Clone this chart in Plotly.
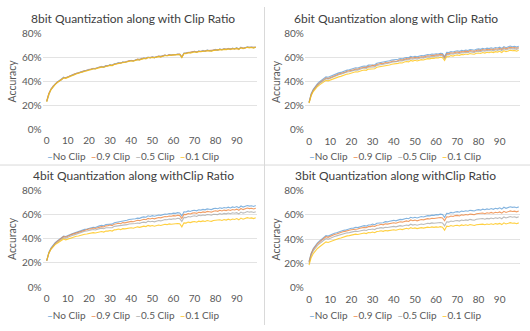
import plotly.graph_objects as go

epochs = list(range(100))
series_names = ["No Clip", "0.9 Clip", "0.5 Clip", "0.1 Clip"]
colors = ["#5B9BD5", "#ED7D31", "#A5A5A5", "#FFC000"]
titles = ["8bit Quantization along with Clip Ratio", "6bit Quantization along with Clip Ratio",
          "4bit Quantization along withClip Ratio", "3bit Quantization along withClip Ratio"]
y_ticks = [0, 20, 40, 60, 80]
y_tick_labels = ["0%", "20%", "40%", "60%", "80%"]
x_ticks = [0, 10, 20, 30, 40, 50, 60, 70, 80, 90]

# ---------------- 8 bit ----------------
b8_noclip = [23.5, 29.8, 33.4, 35.9, 37.8, 39.3, 40.6, 41.5, 43.4, 42.9,
             43.8, 44.6, 45.3, 45.9, 46.6, 47.0, 47.8, 48.2, 48.9, 49.2,
             49.9, 50.1, 50.8, 50.6, 51.4, 51.9, 52.3, 52.0, 53.0, 53.1,
             53.8, 53.4, 54.6, 54.9, 55.5, 55.2, 56.1, 56.0, 56.6, 57.2,
             57.4, 57.1, 57.9, 58.4, 58.2, 59.0, 59.4, 59.1, 60.3, 59.8,
             60.4, 59.9, 60.6, 61.0, 60.7, 61.5, 61.8, 61.6, 62.2, 62.0,
             62.5, 62.3, 62.9, 62.6, 60.2, 63.6, 63.4, 64.3, 63.9, 64.6,
             64.9, 64.4, 65.3, 65.0, 65.6, 65.2, 66.0, 65.7, 65.4, 66.2,
             66.5, 66.1, 66.9, 66.4, 67.1, 66.7, 67.4, 66.8, 67.6, 67.2,
             67.9, 66.9, 68.4, 67.5, 68.1, 68.8, 68.3, 68.6, 68.0, 68.7]
b8_c09 = [23.8, 30.1, 33.2, 36.1, 37.6, 39.5, 40.4, 41.8, 43.1, 43.2,
          43.6, 44.8, 45.1, 46.1, 46.4, 47.3, 47.6, 48.4, 48.7, 49.4,
          49.7, 50.4, 50.6, 50.9, 51.2, 52.1, 52.0, 52.3, 52.8, 53.4,
          53.5, 53.7, 54.3, 55.1, 55.2, 55.6, 55.9, 56.3, 56.4, 57.4,
          57.2, 57.5, 57.6, 58.6, 58.0, 59.2, 59.1, 59.5, 60.0, 60.1,
          60.1, 60.2, 60.3, 61.2, 60.5, 61.3, 62.0, 61.4, 62.4, 61.8,
          62.3, 62.6, 62.7, 62.8, 60.6, 63.3, 63.7, 64.0, 64.2, 64.4,
          65.1, 64.6, 65.0, 65.3, 65.4, 65.5, 65.7, 66.0, 65.6, 66.0,
          66.3, 66.4, 66.6, 66.7, 66.9, 67.0, 67.1, 67.1, 67.3, 67.5,
          67.6, 67.2, 68.1, 67.8, 67.9, 68.5, 68.5, 68.3, 68.3, 68.5]
b8_c05 = [23.2, 29.5, 33.6, 35.7, 38.0, 39.1, 40.8, 41.3, 43.6, 42.7,
          44.0, 44.4, 45.5, 45.7, 46.8, 46.8, 48.0, 48.0, 49.1, 49.0,
          50.1, 49.9, 51.0, 50.4, 51.6, 51.7, 52.5, 51.8, 53.2, 52.9,
          54.0, 53.2, 54.8, 54.7, 55.7, 55.0, 56.3, 55.8, 56.8, 57.0,
          57.6, 56.9, 58.1, 58.2, 58.4, 58.8, 59.6, 58.9, 60.1, 59.6,
          60.6, 59.7, 60.8, 60.8, 60.9, 61.3, 62.0, 61.4, 62.0, 62.2,
          62.3, 62.5, 62.7, 62.4, 60.4, 63.4, 63.6, 64.1, 64.1, 64.4,
          65.1, 64.2, 65.5, 64.8, 65.8, 65.0, 66.2, 65.5, 65.6, 66.0,
          66.7, 65.9, 67.1, 66.2, 67.3, 66.5, 67.6, 66.6, 67.8, 67.0,
          68.1, 66.7, 68.6, 67.3, 68.3, 68.6, 68.5, 68.4, 68.2, 68.5]
b8_c01 = [23.0, 29.3, 33.0, 35.5, 37.4, 39.0, 40.2, 41.2, 42.9, 42.6,
          43.4, 44.3, 44.9, 45.6, 46.2, 46.8, 47.4, 47.9, 48.5, 48.9,
          49.5, 49.8, 50.4, 50.4, 51.0, 51.6, 51.9, 51.8, 52.6, 52.8,
          53.4, 53.2, 54.2, 54.6, 55.1, 55.0, 55.7, 55.8, 56.2, 56.9,
          57.0, 56.9, 57.5, 58.1, 57.9, 58.7, 59.0, 58.9, 59.9, 59.5,
          60.0, 59.7, 60.2, 60.7, 60.4, 61.1, 61.4, 61.4, 61.8, 61.8,
          62.1, 62.1, 62.5, 62.4, 59.8, 63.2, 63.1, 63.9, 63.6, 64.2,
          64.5, 64.2, 64.9, 64.8, 65.2, 65.0, 65.6, 65.5, 65.1, 65.8,
          66.1, 65.9, 66.5, 66.2, 66.7, 66.5, 67.0, 66.6, 67.2, 67.0,
          67.5, 66.7, 68.0, 67.3, 67.7, 68.4, 68.0, 68.3, 67.8, 68.4]

# ---------------- 6 bit ----------------
b6_noclip = [23.0, 30.0, 33.8, 36.4, 38.4, 40.0, 41.3, 42.2, 44.0, 43.7,
             44.5, 45.3, 46.0, 46.6, 47.3, 47.7, 48.5, 48.9, 49.6, 49.9,
             50.6, 50.8, 51.5, 51.3, 52.1, 52.6, 53.0, 52.7, 53.7, 53.8,
             54.5, 54.1, 55.3, 55.6, 56.2, 55.9, 56.8, 56.7, 57.3, 57.9,
             58.1, 57.8, 58.6, 59.1, 58.9, 59.7, 60.1, 59.8, 61.0, 60.5,
             61.1, 60.6, 61.3, 61.7, 61.4, 62.2, 62.5, 62.3, 62.9, 62.7,
             63.2, 63.0, 63.6, 63.3, 60.9, 64.3, 64.1, 65.0, 64.6, 65.3,
             65.6, 65.1, 66.0, 65.7, 66.3, 65.9, 66.7, 66.4, 66.1, 66.9,
             67.2, 66.8, 67.6, 67.1, 67.8, 67.4, 68.1, 67.5, 68.3, 67.9,
             68.6, 67.6, 69.1, 68.2, 68.8, 69.5, 69.0, 69.3, 68.7, 69.4]
b6_c09 = [22.6, 29.4, 33.0, 35.6, 37.5, 39.0, 40.3, 41.2, 43.0, 42.6,
          43.5, 44.3, 45.0, 45.6, 46.3, 46.7, 47.5, 47.9, 48.6, 48.9,
          49.6, 49.8, 50.5, 50.3, 51.1, 51.6, 52.0, 51.7, 52.7, 52.8,
          53.5, 53.1, 54.3, 54.6, 55.2, 54.9, 55.8, 55.7, 56.3, 56.9,
          57.1, 56.8, 57.6, 58.1, 57.9, 58.7, 59.1, 58.8, 60.0, 59.5,
          60.1, 59.6, 60.3, 60.7, 60.4, 61.2, 61.5, 61.3, 61.9, 61.7,
          62.2, 62.0, 62.6, 62.3, 59.9, 63.3, 63.1, 64.0, 63.6, 64.3,
          64.6, 64.1, 65.0, 64.7, 65.3, 64.9, 65.7, 65.4, 65.1, 65.9,
          66.2, 65.8, 66.6, 66.1, 66.8, 66.4, 67.1, 66.5, 67.3, 66.9,
          67.6, 66.6, 68.1, 67.2, 67.8, 68.5, 68.0, 68.3, 67.7, 68.4]
b6_c05 = [22.4, 28.9, 32.6, 35.1, 37.0, 38.5, 39.8, 40.7, 42.4, 42.1,
          42.9, 43.7, 44.4, 45.0, 45.7, 46.1, 46.9, 47.3, 48.0, 48.3,
          48.9, 49.1, 49.8, 49.6, 50.4, 50.9, 51.3, 51.0, 52.0, 52.1,
          52.7, 52.3, 53.5, 53.8, 54.4, 54.1, 55.0, 54.9, 55.5, 56.1,
          56.3, 56.0, 56.8, 57.3, 57.1, 57.9, 58.3, 58.0, 59.1, 58.6,
          59.2, 58.7, 59.4, 59.8, 59.5, 60.3, 60.6, 60.4, 61.0, 60.8,
          61.3, 61.1, 61.7, 61.4, 59.0, 62.4, 62.2, 63.1, 62.7, 63.4,
          63.7, 63.2, 64.1, 63.8, 64.4, 64.0, 64.8, 64.5, 64.2, 65.0,
          65.3, 64.9, 65.7, 65.2, 65.9, 65.5, 66.2, 65.6, 66.4, 66.0,
          66.7, 65.7, 67.2, 66.3, 66.9, 67.6, 67.1, 67.4, 66.8, 67.5]
b6_c01 = [22.2, 28.3, 31.8, 34.2, 36.0, 37.4, 38.6, 39.4, 41.1, 40.7,
          41.5, 42.2, 42.8, 43.4, 44.0, 44.4, 45.2, 45.6, 46.3, 46.6,
          47.3, 47.5, 48.2, 48.0, 48.8, 49.3, 49.7, 49.4, 50.4, 50.5,
          51.1, 50.7, 51.9, 52.2, 52.8, 52.5, 53.4, 53.3, 53.9, 54.5,
          54.7, 54.4, 55.2, 55.7, 55.5, 56.3, 56.7, 56.4, 57.6, 57.1,
          57.7, 57.2, 57.9, 58.3, 58.0, 58.8, 59.1, 58.9, 59.5, 59.3,
          59.8, 59.6, 60.2, 59.9, 57.5, 60.9, 60.7, 61.6, 61.2, 61.9,
          62.2, 61.7, 62.6, 62.3, 62.9, 62.5, 63.3, 63.0, 62.7, 63.5,
          63.8, 63.4, 64.2, 63.7, 64.4, 64.0, 64.7, 64.1, 64.9, 64.5,
          65.2, 64.2, 65.7, 64.8, 65.4, 66.1, 65.6, 65.9, 65.3, 66.0]

# ---------------- 4 bit ----------------
b4_noclip = [22.0, 28.6, 32.3, 34.8, 36.7, 38.2, 39.5, 40.4, 42.2, 41.8,
             42.7, 43.4, 44.1, 44.7, 45.4, 45.8, 46.6, 47.0, 47.7, 48.0,
             48.6, 48.8, 49.5, 49.3, 50.1, 50.6, 51.0, 50.7, 51.7, 51.8,
             52.4, 52.0, 53.2, 53.5, 54.1, 53.8, 54.7, 54.6, 55.2, 55.8,
             56.0, 55.7, 56.5, 57.0, 56.8, 57.6, 58.0, 57.7, 58.9, 58.4,
             59.0, 58.5, 59.2, 59.6, 59.3, 60.1, 60.4, 60.2, 60.8, 60.6,
             61.1, 60.9, 61.5, 61.2, 58.8, 62.2, 62.0, 62.9, 62.5, 63.2,
             63.5, 63.0, 63.9, 63.6, 64.2, 63.8, 64.6, 64.3, 64.0, 64.8,
             65.1, 64.7, 65.5, 65.0, 65.7, 65.3, 66.0, 65.4, 66.2, 65.8,
             66.5, 65.5, 67.0, 66.1, 66.7, 67.4, 66.9, 67.2, 66.6, 67.3]
b4_c09 = [21.9, 28.2, 31.8, 34.3, 36.2, 37.7, 39.0, 39.9, 41.8, 41.3,
          42.2, 43.0, 43.6, 44.2, 44.8, 45.2, 46.0, 46.4, 47.1, 47.4,
          48.0, 48.1, 48.8, 48.5, 49.2, 49.7, 50.0, 49.7, 50.6, 50.7,
          51.3, 50.8, 52.0, 52.3, 52.8, 52.4, 53.3, 53.1, 53.7, 54.2,
          54.3, 54.0, 54.7, 55.2, 54.9, 55.7, 56.0, 55.7, 56.8, 56.3,
          56.9, 56.4, 57.1, 57.5, 57.2, 58.0, 58.3, 58.1, 58.7, 58.5,
          59.0, 58.8, 59.4, 59.1, 56.7, 60.1, 59.9, 60.8, 60.4, 61.1,
          61.4, 60.9, 61.8, 61.5, 62.1, 61.7, 62.5, 62.2, 61.9, 62.7,
          63.0, 62.6, 63.4, 62.9, 63.6, 63.2, 63.9, 63.3, 64.1, 63.7,
          64.4, 63.4, 64.9, 64.0, 64.6, 65.3, 64.8, 65.1, 64.5, 65.2]
b4_c05 = [21.7, 28.0, 31.5, 33.9, 35.7, 37.1, 38.3, 39.2, 40.9, 40.4,
          41.3, 42.1, 42.7, 43.2, 43.9, 44.3, 45.0, 45.4, 46.1, 46.4,
          46.9, 47.0, 47.6, 47.2, 47.9, 48.3, 48.6, 48.2, 49.1, 49.1,
          49.6, 49.1, 50.2, 50.4, 50.9, 50.5, 51.3, 51.1, 51.6, 52.2,
          52.3, 51.9, 52.6, 53.0, 52.7, 53.4, 53.7, 53.3, 54.5, 54.0,
          54.4, 53.9, 54.6, 55.0, 54.7, 55.5, 55.8, 55.6, 56.2, 56.0,
          56.5, 56.3, 56.9, 56.6, 54.2, 57.6, 57.4, 58.3, 57.9, 58.6,
          58.9, 58.4, 59.3, 59.0, 59.6, 59.2, 60.0, 59.7, 59.4, 60.2,
          60.3, 59.9, 60.7, 60.2, 60.9, 60.5, 61.2, 60.6, 61.4, 61.0,
          61.5, 60.5, 62.0, 61.1, 61.7, 62.4, 61.9, 62.2, 61.6, 62.3]
b4_c01 = [22.0, 28.0, 31.3, 33.5, 35.1, 36.3, 37.4, 38.1, 39.8, 39.1,
          39.8, 40.5, 41.0, 41.5, 42.0, 42.3, 42.9, 43.2, 43.7, 43.9,
          44.4, 44.5, 45.0, 44.7, 45.3, 45.7, 45.9, 45.5, 46.3, 46.3,
          46.8, 46.3, 47.3, 47.5, 48.0, 47.5, 48.3, 48.1, 48.5, 49.0,
          49.1, 48.7, 49.4, 49.8, 49.4, 50.1, 50.4, 50.0, 51.0, 50.4,
          50.9, 50.3, 51.0, 51.3, 50.9, 51.7, 51.9, 51.6, 52.2, 51.9,
          52.3, 52.1, 52.6, 52.3, 49.8, 53.1, 52.9, 53.7, 53.3, 53.9,
          54.2, 53.6, 54.5, 54.1, 54.7, 54.2, 55.0, 54.6, 54.3, 55.0,
          55.2, 54.8, 55.6, 55.1, 55.8, 55.4, 56.1, 55.5, 56.3, 55.9,
          56.6, 55.6, 57.0, 56.1, 56.7, 57.4, 56.9, 57.2, 56.6, 57.3]

# ---------------- 3 bit ----------------
b3_noclip = [21.5, 28.2, 32.1, 34.8, 36.9, 38.5, 39.9, 40.9, 42.8, 42.4,
             43.3, 44.0, 44.7, 45.2, 45.9, 46.2, 47.0, 47.3, 48.0, 48.2,
             48.9, 49.0, 49.7, 49.4, 50.2, 50.6, 51.0, 50.6, 51.6, 51.6,
             52.3, 51.8, 53.0, 53.2, 53.8, 53.4, 54.3, 54.1, 54.7, 55.2,
             55.4, 55.0, 55.8, 56.2, 56.0, 56.7, 57.1, 56.7, 57.9, 57.3,
             57.9, 57.4, 58.1, 58.5, 58.2, 59.0, 59.3, 59.1, 59.7, 59.5,
             60.1, 59.9, 60.5, 60.2, 57.8, 61.2, 61.0, 61.9, 61.5, 62.2,
             62.6, 62.1, 63.0, 62.7, 63.3, 62.9, 63.7, 63.4, 63.1, 63.9,
             64.2, 63.8, 64.6, 64.1, 64.8, 64.4, 65.1, 64.5, 65.3, 64.9,
             65.7, 64.7, 66.2, 65.3, 65.9, 66.6, 66.1, 66.4, 65.8, 66.5]
b3_c09 = [21.0, 27.6, 31.4, 34.1, 36.1, 37.7, 39.0, 40.0, 41.9, 41.4,
          42.3, 43.0, 43.7, 44.2, 44.9, 45.2, 46.0, 46.3, 47.0, 47.2,
          47.7, 47.8, 48.4, 48.2, 48.9, 49.3, 49.6, 49.3, 50.2, 50.2,
          50.8, 50.3, 51.4, 51.6, 52.1, 51.7, 52.5, 52.3, 52.8, 53.3,
          53.4, 53.0, 53.7, 54.2, 53.9, 54.6, 54.9, 54.5, 55.7, 55.1,
          55.6, 55.0, 55.7, 56.1, 55.8, 56.5, 56.8, 56.5, 57.1, 56.9,
          57.3, 57.1, 57.7, 57.4, 55.0, 58.3, 58.1, 59.0, 58.6, 59.3,
          59.5, 59.0, 59.9, 59.6, 60.2, 59.8, 60.6, 60.3, 60.0, 60.8,
          61.0, 60.6, 61.4, 60.9, 61.6, 61.2, 61.9, 61.3, 62.1, 61.7,
          62.3, 61.3, 62.8, 61.9, 62.5, 63.2, 62.7, 63.0, 62.4, 63.1]
b3_c05 = [20.0, 26.5, 30.2, 32.8, 34.8, 36.3, 37.6, 38.5, 40.4, 39.9,
          40.8, 41.5, 42.1, 42.6, 43.2, 43.5, 44.2, 44.5, 45.1, 45.3,
          45.9, 46.0, 46.5, 46.2, 46.8, 47.2, 47.4, 47.0, 47.8, 47.8,
          48.3, 47.8, 48.8, 49.0, 49.4, 49.0, 49.7, 49.5, 49.9, 50.4,
          50.4, 50.0, 50.6, 51.0, 50.6, 51.3, 51.6, 51.1, 52.2, 51.5,
          52.0, 51.4, 52.0, 52.4, 52.0, 52.8, 53.0, 52.7, 53.3, 53.0,
          53.3, 53.0, 53.6, 53.2, 50.8, 54.2, 53.9, 54.8, 54.4, 55.0,
          55.3, 54.8, 55.6, 55.3, 55.8, 55.4, 56.2, 55.8, 55.5, 56.3,
          56.5, 56.1, 56.9, 56.3, 57.0, 56.6, 57.3, 56.7, 57.5, 57.0,
          57.7, 56.7, 58.2, 57.3, 57.8, 58.5, 58.0, 58.3, 57.7, 58.4]
b3_c01 = [18.5, 24.6, 28.0, 30.4, 32.2, 33.6, 34.9, 35.7, 37.6, 37.1,
          37.9, 38.6, 39.3, 39.8, 40.5, 40.8, 41.6, 41.9, 42.6, 42.8,
          43.4, 43.5, 44.0, 43.7, 44.3, 44.7, 44.9, 44.5, 45.3, 45.2,
          45.8, 45.2, 46.2, 46.4, 46.8, 46.3, 47.0, 46.7, 47.2, 47.6,
          47.6, 47.2, 47.8, 48.2, 47.8, 48.5, 48.8, 48.3, 49.4, 48.7,
          49.2, 48.6, 49.1, 49.4, 49.0, 49.7, 49.8, 49.5, 50.0, 49.6,
          50.0, 49.7, 50.2, 49.8, 47.3, 50.6, 50.3, 51.1, 50.6, 51.2,
          51.4, 50.8, 51.6, 51.2, 51.7, 51.2, 51.9, 51.5, 51.1, 51.8,
          52.0, 51.6, 52.3, 51.8, 52.4, 52.0, 52.6, 52.0, 52.7, 52.3,
          52.9, 51.9, 53.3, 52.4, 52.9, 53.5, 53.0, 53.2, 52.6, 53.3]

panels = [
    [b8_noclip, b8_c09, b8_c05, b8_c01],
    [b6_noclip, b6_c09, b6_c05, b6_c01],
    [b4_noclip, b4_c09, b4_c05, b4_c01],
    [b3_noclip, b3_c09, b3_c05, b3_c01],
]

W, H = 530, 331
FONT = "Lato"
TXT = "#595959"

# panel geometry in pixels: (plot left, plot right, y of 80%, y of 0%)
geom = [
    (42.5, 257.0, 27.5, 127.5),
    (304.8, 520.0, 27.5, 128.0),
    (42.5, 257.0, 190.7, 291.7),
    (304.8, 520.0, 191.0, 292.0),
]
title_pos = [(132.5, 12), (396, 12), (133, 175), (396, 175)]
legend_pos = [(133, 155.5), (395, 155.5), (133, 320.5), (395, 320.5)]
ytitle_pos = [(12, 77.5), (276, 78), (12, 241.5), (276, 242)]
xstandoff = [4, 4, 4, 4]

fig = go.Figure()
annotations = []
for p in range(4):
    sfx = "" if p == 0 else str(p + 1)
    for s in range(4):
        fig.add_trace(go.Scatter(
            x=epochs, y=panels[p][s], mode="lines", name=series_names[s],
            line=dict(color=colors[s], width=1.1), opacity=0.75, showlegend=False,
            xaxis="x" + sfx, yaxis="y" + sfx))
    l, r, yt, yb = geom[p]
    fig.layout["xaxis" + sfx] = dict(
        domain=[l / W, r / W], range=[-2, 99.6], anchor="y" + sfx,
        tickmode="array", tickvals=x_ticks, showgrid=False, zeroline=False,
        showline=False, ticks="", tickfont=dict(family=FONT, size=10, color=TXT),
        ticklabelstandoff=xstandoff[p])
    fig.layout["yaxis" + sfx] = dict(
        domain=[1 - yb / H, 1 - yt / H], range=[0, 80], anchor="x" + sfx,
        tickmode="array", tickvals=y_ticks, ticktext=y_tick_labels, showgrid=True,
        gridcolor="#E3E3E3", gridwidth=1, zeroline=False, showline=False,
        ticks="", tickfont=dict(family=FONT, size=10, color=TXT))
    tx, ty = title_pos[p]
    annotations.append(dict(text=titles[p], x=tx / W, y=1 - ty / H, xref="paper", yref="paper",
                            showarrow=False, xanchor="center", yanchor="middle",
                            font=dict(family=FONT, size=12, color="#404040")))
    ax_, ay_ = ytitle_pos[p]
    annotations.append(dict(text="Accuracy", x=ax_ / W, y=1 - ay_ / H, xref="paper", yref="paper",
                            showarrow=False, textangle=-90, xanchor="center", yanchor="middle",
                            font=dict(family=FONT, size=10.5, color=TXT)))
    leg = "  ".join(
        '<span style="color:%s">–</span>%s' % (colors[s], series_names[s]) for s in range(4))
    lx, ly = legend_pos[p]
    annotations.append(dict(text=leg, x=lx / W, y=1 - ly / H, xref="paper", yref="paper",
                            showarrow=False, xanchor="center", yanchor="middle",
                            font=dict(family=FONT, size=10, color=TXT)))

shapes = [
    dict(type="line", xref="paper", yref="paper", x0=264.5 / W, x1=264.5 / W, y0=0, y1=1,
         line=dict(color="#D9D9D9", width=1)),
    dict(type="line", xref="paper", yref="paper", x0=0, x1=1, y0=1 - 164.5 / H, y1=1 - 164.5 / H,
         line=dict(color="#D9D9D9", width=1)),
]

fig.update_layout(width=W, height=H, margin=dict(l=0, r=0, t=0, b=0),
                  paper_bgcolor="white", plot_bgcolor="white",
                  annotations=annotations, shapes=shapes,
                  font=dict(family=FONT, color=TXT))
fig.write_html("out.html")
